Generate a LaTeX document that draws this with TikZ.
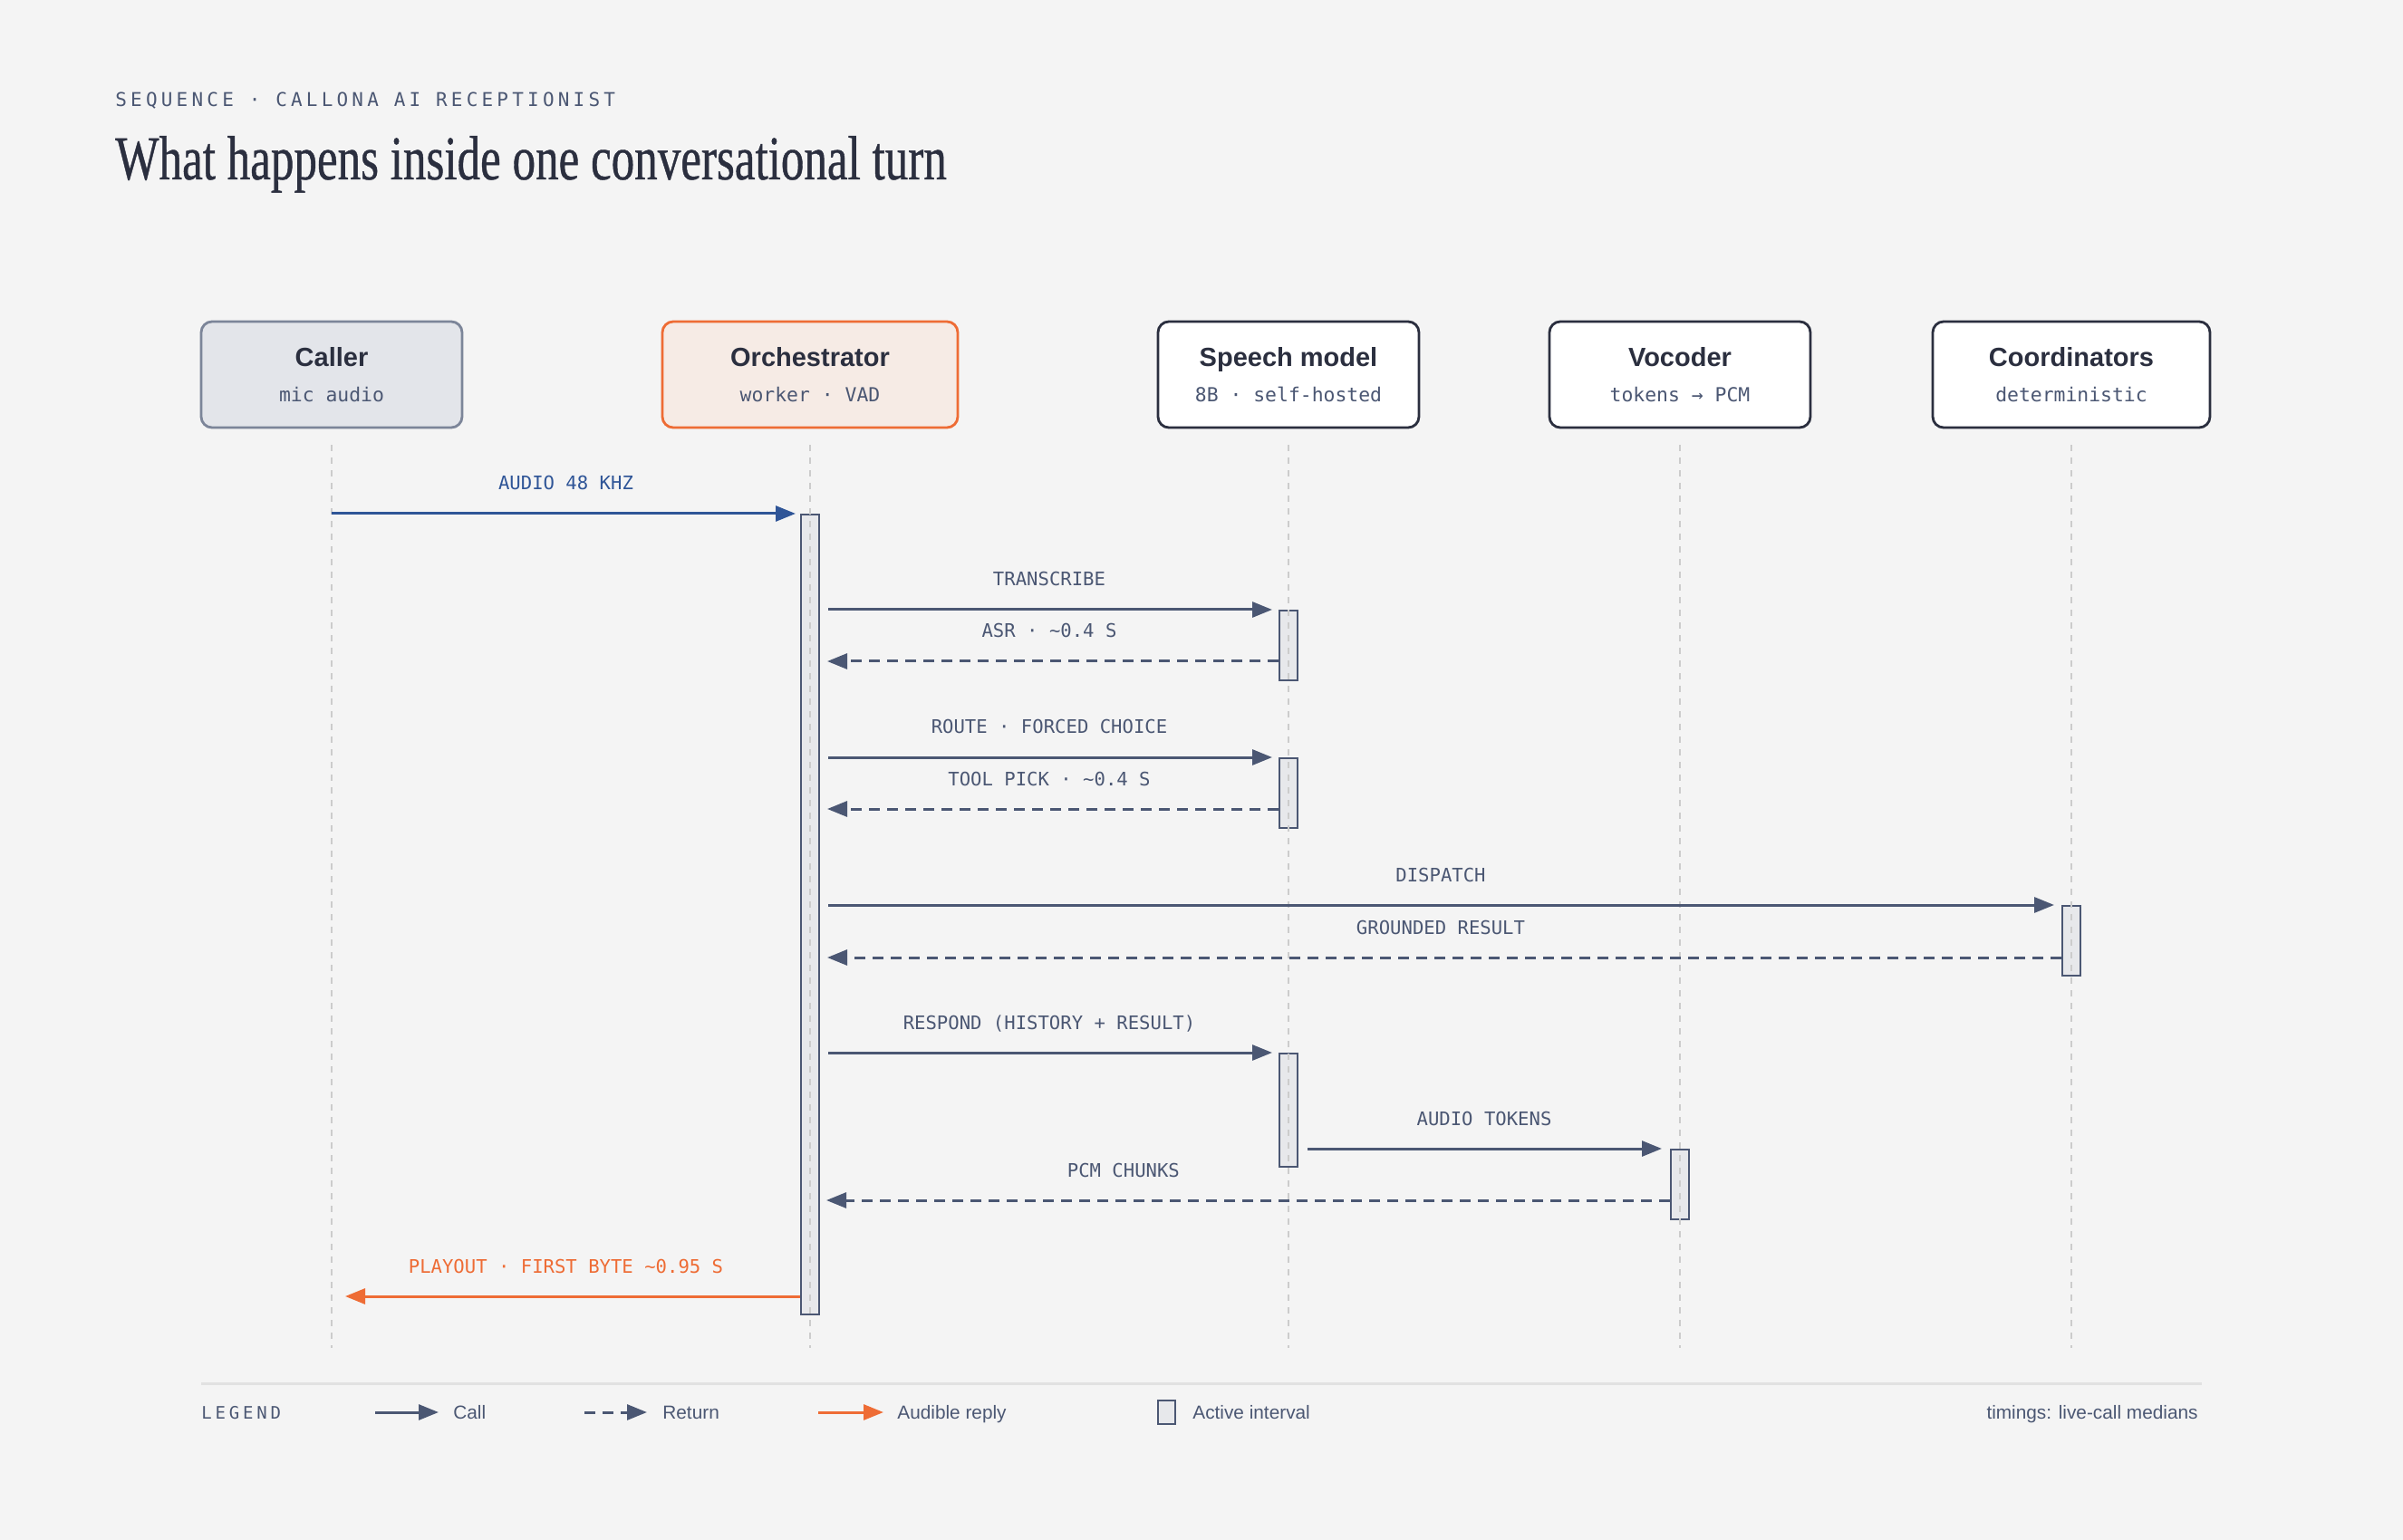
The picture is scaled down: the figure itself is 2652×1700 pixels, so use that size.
\documentclass[tikz,border=0pt]{standalone}
\usepackage{fontspec}
\setmainfont{Liberation Sans}
\newfontfamily\headfont[FakeStretch=0.74,FakeBold=0.6]{Liberation Serif}
\newfontfamily\monofont{DejaVu Sans Mono}
\newfontfamily\capsfont[LetterSpace=20]{DejaVu Sans Mono}
\usetikzlibrary{arrows.meta}
\usetikzlibrary{positioning}

\definecolor{paper}{HTML}{F4F4F4}
\definecolor{ink}{HTML}{2B2F3F}
\definecolor{slate}{HTML}{4B5773}
\definecolor{callblue}{HTML}{2F5597}
\definecolor{reply}{HTML}{EE6C35}
\definecolor{lifegray}{HTML}{CCCCCC}
\definecolor{barfill}{HTML}{E7E8EB}
\definecolor{callerfill}{HTML}{E3E5EA}
\definecolor{callerline}{HTML}{7C8599}
\definecolor{orchfill}{HTML}{F6EBE5}
\definecolor{rulegray}{HTML}{E1E1E1}

\newcommand{\actorsub}[1]{{\monofont\fontsize{10.7}{10.7}\selectfont\mdseries\color{slate}#1}}

\tikzset{
  actor/.style={draw=ink, fill=white, line width=1.4pt, rounded corners=6pt,
    minimum width=144pt, minimum height=58.5pt, inner sep=0pt, align=center,
    text=ink, font=\fontsize{14.5}{14.5}\selectfont\bfseries},
  bar/.style={draw=slate, fill=barfill, line width=1pt, minimum width=10pt,
    inner sep=0pt, anchor=north},
  life/.style={draw=lifegray, line width=1pt, dash pattern=on 3.5pt off 3.5pt},
  msg/.style={line width=1.5pt, draw=slate, -{Triangle[length=11pt,width=8.5pt]}},
  ret/.style={msg, dash pattern=on 6pt off 4pt},
  lbl/.style={font=\monofont\fontsize{10.3}{10.3}\selectfont, text=slate,
    anchor=base, yshift=13pt, inner sep=0pt},
  legtxt/.style={anchor=base west, inner sep=0pt, text=slate,
    font=\fontsize{10.4}{10.4}\selectfont},
}

\begin{document}
\begin{tikzpicture}[x=0.5pt, y=-0.5pt]

  \fill[paper] (0,0) rectangle (2652,1700);
  \useasboundingbox (0,0) rectangle (2652,1700);

  % heading
  \node[anchor=base west, inner sep=0pt, text=slate,
    font=\capsfont\fontsize{10.5}{10.5}\selectfont] (eyebrow) at (127,118)
    {SEQUENCE · CALLONA AI RECEPTIONIST};
  \node[anchor=base west, inner sep=0pt, text=ink,
    font=\headfont\fontsize{34.5}{34.5}\selectfont] (title) at (127,198)
    {What happens inside one conversational turn};

  % participants
  \node[actor, fill=callerfill, draw=callerline] (caller) at (366,413.5)
    {Caller\\[5pt]\actorsub{mic audio}};
  \node[actor, fill=orchfill, draw=reply, minimum width=163pt] (orch) at (894,413.5)
    {Orchestrator\\[5pt]\actorsub{worker · VAD}};
  \node[actor] (speech) at (1422,413.5)
    {Speech model\\[5pt]\actorsub{8B · self-hosted}};
  \node[actor] (vocoder) at (1854,413.5)
    {Vocoder\\[5pt]\actorsub{tokens → PCM}};
  \node[actor, minimum width=153pt] (coord) at (2286,413.5)
    {Coordinators\\[5pt]\actorsub{deterministic}};

  % message rows
  \foreach \n/\y in {1/567,2/673,3/730,4/836,5/893,6/999,7/1057,8/1162,9/1268,10/1325,11/1431}
    \coordinate (m\n) at (0,\y);
  \coordinate (bot) at (0,1488);

  % activation bars
  \node[bar, minimum height=441.5pt] (ob) at (orch |- m1) {};
  \node[bar, minimum height=38.5pt] (sb1) at (speech |- m2) {};
  \node[bar, minimum height=38.5pt] (sb2) at (speech |- m4) {};
  \node[bar, minimum height=38.5pt] (cb) at (coord |- m6) {};
  \node[bar, minimum height=62.5pt] (sb3) at (speech |- m8) {};
  \node[bar, minimum height=38.5pt] (vb) at (vocoder |- m9) {};

  % lifelines
  \foreach \p in {caller,orch,speech,vocoder,coord}
    \draw[life] ([yshift=-9pt]\p.south) -- (\p |- bot);

  % messages
  \draw[msg, draw=callblue, shorten >=2.5pt] (caller |- m1) -- (ob.west |- m1)
    node[lbl, midway, text=callblue] (l1) {AUDIO 48 KHZ};
  \draw[msg, shorten <=4.5pt, shorten >=3.5pt] (ob.east |- m2) -- (sb1.west |- m2)
    node[lbl, midway] (l2) {TRANSCRIBE};
  \draw[ret, shorten >=4pt] (sb1.west |- m3) -- (ob.east |- m3)
    node[lbl, midway] (l3) {ASR · \textasciitilde0.4 S};
  \draw[msg, shorten <=4.5pt, shorten >=3.5pt] (ob.east |- m4) -- (sb2.west |- m4)
    node[lbl, midway] (l4) {ROUTE · FORCED CHOICE};
  \draw[ret, shorten >=4pt] (sb2.west |- m5) -- (ob.east |- m5)
    node[lbl, midway] (l5) {TOOL PICK · \textasciitilde0.4 S};
  \draw[msg, shorten <=4.5pt, shorten >=4pt] (ob.east |- m6) -- (cb.west |- m6)
    node[lbl, midway] (l6) {DISPATCH};
  \draw[ret, shorten >=4pt] (cb.west |- m7) -- (ob.east |- m7)
    node[lbl, midway] (l7) {GROUNDED RESULT};
  \draw[msg, shorten <=4.5pt, shorten >=3.5pt] (ob.east |- m8) -- (sb3.west |- m8)
    node[lbl, midway] (l8) {RESPOND (HISTORY + RESULT)};
  \draw[msg, shorten <=5pt, shorten >=4.5pt] (sb3.east |- m9) -- (vb.west |- m9)
    node[lbl, midway] (l9) {AUDIO TOKENS};
  \draw[ret, shorten >=3.5pt] (vb.west |- m10) -- (ob.east |- m10)
    node[lbl, pos=0.643] (l10) {PCM CHUNKS};
  \draw[msg, draw=reply, shorten >=7.5pt] (ob.west |- m11) -- (caller |- m11)
    node[lbl, midway, text=reply] (l11) {PLAYOUT · FIRST BYTE \textasciitilde0.95 S};

  % legend
  \draw[rulegray, line width=1.5pt] (222,1527) -- (2430,1527);
  \node[anchor=base west, inner sep=0pt, text=slate,
    font=\capsfont\fontsize{9.5}{9.5}\selectfont] (legend) at (222,1566) {LEGEND};
  \node[legtxt] (lcall) at (500,1566) {Call};
  \node[legtxt] (lret) at (731,1566) {Return};
  \node[legtxt] (lreply) at (990,1566) {Audible reply};
  \node[legtxt] (lbar) at (1316,1566) {Active interval};
  \node[legtxt, anchor=base east] (note) at (2426,1566) {timings: live-call medians};
  \coordinate (k1) at (414,1559);
  \coordinate (k2) at (645,1559);
  \coordinate (k3) at (903,1559);
  \draw[msg] (k1) -- (k1 -| lcall.west) [shorten >=8pt];
  \draw[ret] (k2) -- (k2 -| lret.west) [shorten >=8.5pt];
  \draw[msg, draw=reply] (k3) -- (k3 -| lreply.west) [shorten >=7.5pt];
  \node[bar, minimum width=9.5pt, minimum height=13pt] (kbar) at (1287.5,1545) {};

\end{tikzpicture}
\end{document}
